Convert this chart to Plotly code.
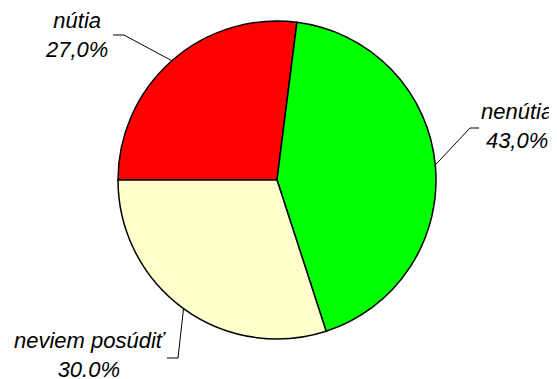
import math
import plotly.graph_objects as go

labels = ["nútia", "nenútia", "neviem posúdiť"]
values = [27.0, 43.0, 30.0]
pct_text = ["27,0%", "43,0%", "30.0%"]
colors = ["#FF0000", "#00FF00", "#FFFFCC"]

OFF = 8                      # page body margin
W, H = 557 - OFF, 379 - OFF
cx, cy, R = 277, 180, 159    # pie centre and radius in window pixels
start = 270                  # first slice starts at 9 o'clock, clockwise


def px(x, y):
    return (x - OFF) / W, 1 - (y - OFF) / H


fig = go.Figure()
fig.add_trace(go.Pie(
    labels=labels,
    values=values,
    sort=False,
    direction="clockwise",
    rotation=start,
    marker=dict(colors=colors, line=dict(color="black", width=1.5)),
    textinfo="none",
    textposition="none",
    hoverinfo="label+percent",
    showlegend=False,
    domain=dict(x=[px(cx - R, 0)[0], px(cx + R, 0)[0]],
                y=[px(0, cy + R)[1], px(0, cy - R)[1]]),
))

# label centres and leader line bends (window pixels)
label_xy = [(76, 35), (517, 126), (90, 355)]
bends = [[(124, 35), (113, 35)],
         [(470, 128), (479, 128)],
         [(178, 358), (167, 358)]]

total = sum(values)
cum = 0
shapes = []
annotations = []
for i, v in enumerate(values):
    theta = math.radians(start + 360 * (cum + v / 2) / total)
    cum += v
    pts = [(cx + R * math.sin(theta), cy - R * math.cos(theta))] + bends[i]
    for (x0, y0), (x1, y1) in zip(pts[:-1], pts[1:]):
        a0, b0 = px(x0, y0)
        a1, b1 = px(x1, y1)
        shapes.append(dict(type="line", xref="paper", yref="paper",
                           x0=a0, y0=b0, x1=a1, y1=b1,
                           line=dict(color="black", width=1)))
    lx, ly = px(*label_xy[i])
    annotations.append(dict(x=lx, y=ly, xref="paper", yref="paper",
                            text=labels[i] + "<br>" + pct_text[i],
                            showarrow=False, align="center",
                            xanchor="center", yanchor="middle",
                            font=dict(family="Liberation Sans, Arial", size=22,
                                      color="black", style="italic")))

fig.update_layout(
    width=W, height=H,
    margin=dict(l=0, r=0, t=0, b=0),
    paper_bgcolor="white",
    plot_bgcolor="white",
    shapes=shapes,
    annotations=annotations,
)

fig.write_html("out.html")
